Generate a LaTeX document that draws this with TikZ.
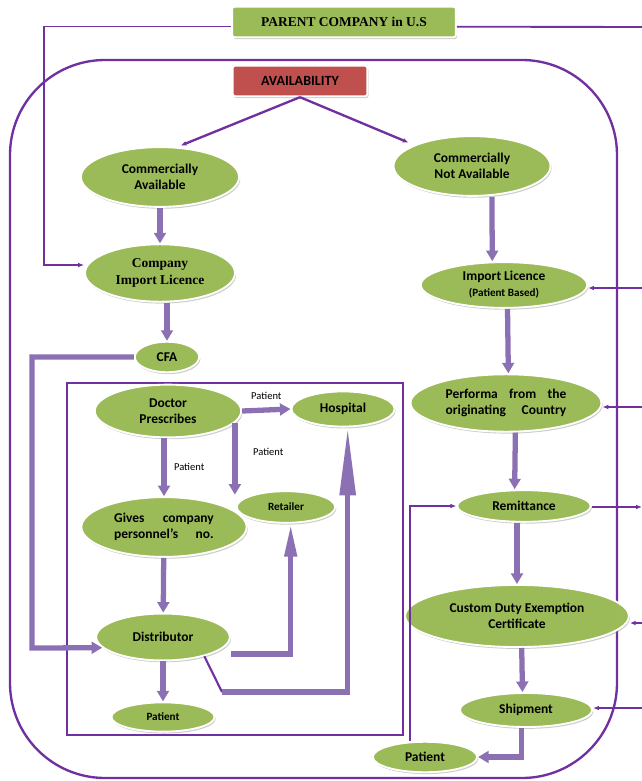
\documentclass[tikz,border=0pt]{standalone}
\usepackage{fontspec}
\setmainfont{Carlito}
\newfontfamily\timesb{Liberation Serif}
\usetikzlibrary{positioning, arrows.meta, shapes.geometric, shadows}
\definecolor{leaf}{HTML}{9BBB59}
\definecolor{brick}{HTML}{C0504D}
\definecolor{plum}{HTML}{7030A0}
\definecolor{lilac}{HTML}{8B70B3}

\begin{document}
\begin{tikzpicture}[x=0.03cm, y=-0.03cm,
  oval/.style={ellipse, fill=leaf, draw=white, line width=1.6pt, inner sep=0pt, align=center,
               font=\bfseries\fontsize{11.5}{13.8}\selectfont,
               drop shadow={opacity=0.4, shadow xshift=1pt, shadow yshift=-1.6pt}},
  banner/.style={rectangle, rounded corners=2pt, draw=white, line width=1.6pt, inner sep=0pt,
                 drop shadow={opacity=0.4, shadow xshift=1pt, shadow yshift=-1.6pt}},
  fat/.style={draw=lilac, line width=4.5pt, -{Triangle[length=9pt,width=10pt]}},
  wire/.style={draw=plum, line width=1.3pt, -{Latex[length=5pt,width=4pt]}},
  lbl/.style={font=\fontsize{9}{10}\selectfont}]
  \useasboundingbox (0,0) rectangle (642,781);

  \draw[plum, line width=2pt, rounded corners=2.85cm] (10,60) rectangle (617,778);
  \draw[plum, line width=2.5pt] (67,383) rectangle (403,735);

  \node[banner, fill=leaf, minimum width=191pt, minimum height=26pt,
        font=\timesb\bfseries\fontsize{11.5}{13}\selectfont] (parent) at (344,22) {PARENT COMPANY in U.S};
  \node[banner, fill=brick, minimum width=115pt, minimum height=26pt,
        font=\bfseries\fontsize{12}{14}\selectfont] (avail) at (300,81) {AVAILABILITY};

  \node[oval, minimum width=135pt, minimum height=51pt] (comav) at (160,177) {Commercially\\Available};
  \node[oval, minimum width=134pt, minimum height=51pt] (comnot) at (472,166) {Commercially\\Not Available};
  \node[oval, minimum width=128pt, minimum height=49pt] (cil) at (160,273) {\timesb\bfseries Company\\\timesb\bfseries Import Licence};
  \node[oval, minimum width=142pt, minimum height=39pt] (ilpb) at (504,285) {Import Licence\\{\fontsize{9.5}{11}\selectfont (Patient Based)}};
  \node[oval, minimum width=55pt, minimum height=26pt] (cfa) at (167,357) {CFA};
  \node[oval, minimum width=125pt, minimum height=45pt] (doctor) at (168,411) {Doctor\\Prescribes};
  \node[oval, minimum width=88pt, minimum height=30pt] (hosp) at (343,409) {Hospital};
  \node[oval, minimum width=84pt, minimum height=27pt, font=\bfseries\fontsize{9.5}{10}\selectfont] (retail) at (286,507) {Retailer};
  \node[oval, minimum width=141pt, minimum height=51pt] (gives) at (164,527)
    {\makebox[85pt][s]{Gives company}\\\makebox[85pt][s]{personnel’s no.}};
  \node[oval, minimum width=114pt, minimum height=40pt] (distr) at (163,637) {Distributor};
  \node[oval, minimum width=88pt, minimum height=25pt, font=\bfseries\fontsize{9.5}{11}\selectfont] (patl) at (163,717) {Patient};
  \node[oval, minimum width=163pt, minimum height=49pt] (perf) at (506,403)
    {\makebox[103pt][s]{Performa from the}\\\makebox[103pt][s]{originating Country}};
  \node[oval, minimum width=114pt, minimum height=27pt] (remit) at (524,506) {Remittance};
  \node[oval, minimum width=191pt, minimum height=53pt] (cdec) at (517,616) {Custom Duty Exemption\\Certificate};
  \node[oval, minimum width=113pt, minimum height=29pt] (ship) at (526,710) {Shipment};
  \node[oval, minimum width=89pt, minimum height=26pt] (patb) at (425,757) {Patient};

  \coordinate (lc) at (44,265);
  \coordinate (ne) at (642,27);
  \coordinate (r1) at (642,288);
  \coordinate (r2) at (642,407);
  \coordinate (r3) at (642,507);
  \coordinate (r4) at (642,623);
  \coordinate (r5) at (642,708);
  \coordinate (elbow) at (32,648);
  \coordinate (k1) at (229,654);
  \coordinate (k2) at (222,692);

  \draw[wire] ([yshift=-4pt]parent.west) -| (lc) -- (cil.west |- lc);
  \draw[plum, line width=1.6pt] ([yshift=-4pt]parent.east) -- (ne);
  \draw[wire, line width=2pt, shorten >=3pt] (avail.south) -- (comav.60);
  \draw[wire, line width=2pt, shorten >=5pt] (avail.south) -- (comnot.160);

  \draw[wire] (r1) -- (ilpb.east |- r1);
  \draw[wire] (r2) -- (perf.east |- r2);
  \draw[wire] (remit.east |- r3) -- (r3);
  \draw[wire] (r4) -- (cdec.east |- r4);
  \draw[wire] (r5) -- (ship.east |- r5);
  \draw[wire] ([xshift=-13pt]patb.north) |- (remit.west);

  \draw[fat] (comav) -- (cil);
  \draw[fat] (cfa |- cil.south) -- (cfa.north);
  \draw[fat] (cfa.west) -| (elbow) -- (distr.190);
  \draw[fat] (doctor.east) -- node[lbl, above=3pt] {Patient} (hosp.west);
  \draw[fat] (doctor.south -| gives) -- node[lbl, right=3pt] {Patient} (gives.north);
  \draw[fat] (doctor.-10) -- node[lbl, right=10pt, pos=0.4] {Patient} (doctor.-10 |- retail.160);
  \draw[fat] (gives) -- (distr);
  \draw[fat] (distr) -- (patl);
  \draw[fat, -{Triangle[length=28pt,width=10pt]}] (distr.east |- k1) -| ([xshift=4pt]retail.south);
  \draw[plum, line width=1.8pt] (distr.-25) -- (k2);
  \draw[fat, -{Triangle[length=58pt,width=13pt]}] (k2) -| ([xshift=4pt]hosp.south);

  \draw[fat] ([xshift=17pt]comnot.south) -- ([xshift=-10pt]ilpb.north);
  \draw[fat] ([xshift=3pt]ilpb.south) -- ([xshift=2pt]perf.north);
  \draw[fat] ([xshift=8pt]perf.south) -- ([xshift=-8pt]remit.north);
  \draw[fat] (cdec |- remit.south) -- (cdec.north);
  \draw[fat] ([xshift=4pt]cdec.south) -- ([xshift=-3pt]ship.north);
  \draw[fat] ([xshift=-4pt]ship.south) |- (patb.east);
\end{tikzpicture}
\end{document}
